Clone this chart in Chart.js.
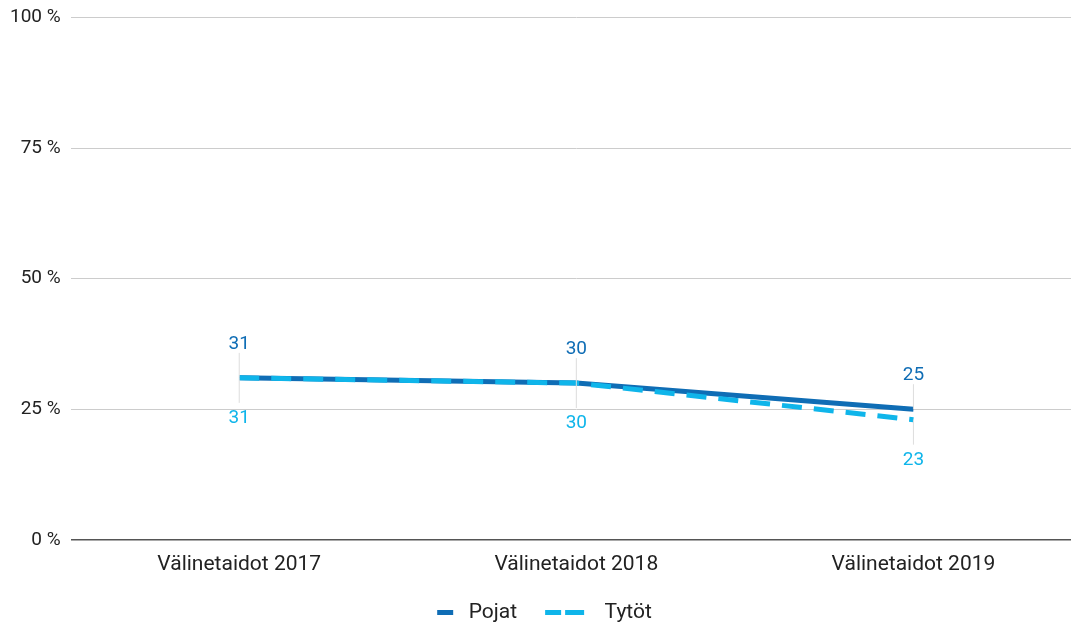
<!DOCTYPE html>
<html>
<head>
<meta charset="utf-8">
<script src="https://cdn.jsdelivr.net/npm/chart.js@4/dist/chart.umd.min.js"></script>
<style>
  html, body { margin: 0; padding: 0; background: #fff; overflow: hidden; }
  #wrap { width: 1082px; height: 628px; margin-top: -4px; }
</style>
</head>
<body>
<div id="wrap"><canvas id="chart"></canvas></div>
<script>
var categories = ['Välinetaidot 2017', 'Välinetaidot 2018', 'Välinetaidot 2019'],
    pojat = [31, 30, 25],
    tytot = [31, 30, 23],
    yTicks = [0, 25, 50, 75, 100],
    darkBlue = '#0f6db5',
    lightBlue = '#0fb5ea';

// legend swatches, 64px wide with transparent room for spacing
function swatch(dashed, color) {
    var c = document.createElement('canvas');
    c.width = 64; c.height = 5;
    var ctx = c.getContext('2d');
    ctx.fillStyle = color;
    if (dashed) {
        ctx.fillRect(15, 0, 16, 5);
        ctx.fillRect(35, 0, 19, 5);
    } else {
        ctx.fillRect(43, 0, 16, 5);
    }
    return c;
}

// value labels above / below the points, with thin leader lines
var valueLabels = {
    id: 'valueLabels',
    afterLayout: function(chart) {
        // nudge legend a bit left, like the original
        chart.legend.left -= 18;
        chart.legend.right -= 18;
    },
    afterDatasetsDraw: function(chart) {
        var ctx = chart.ctx;
        ctx.save();
        ctx.font = '19px Roboto';
        ctx.textAlign = 'center';
        chart.data.datasets.forEach(function(ds, i) {
            var meta = chart.getDatasetMeta(i);
            meta.data.forEach(function(pt, j) {
                var up = i === 0;
                ctx.strokeStyle = '#dddddd';
                ctx.lineWidth = 1;
                ctx.beginPath();
                ctx.moveTo(pt.x, pt.y);
                ctx.lineTo(pt.x, up ? pt.y - 25 : pt.y + 25);
                ctx.stroke();
                ctx.fillStyle = ds.borderColor;
                ctx.textBaseline = up ? 'bottom' : 'top';
                ctx.fillText(String(ds.data[j]), pt.x, up ? pt.y - 24 : pt.y + 31);
            });
        });
        ctx.restore();
    }
};

var chart = new Chart(document.getElementById('chart'), {
    type: 'line',
    data: {
        labels: categories,
        datasets: [{
            label: 'Pojat',
            data: pojat,
            order: 2,
            borderColor: darkBlue,
            backgroundColor: darkBlue,
            borderWidth: 5,
            pointRadius: 0,
            fill: false,
            tension: 0,
            legendStyle: swatch(false, darkBlue)
        }, {
            label: 'Tytöt',
            data: tytot,
            order: 1,
            borderColor: lightBlue,
            backgroundColor: lightBlue,
            borderWidth: 5,
            borderDash: [20, 12],
            pointRadius: 0,
            fill: false,
            tension: 0,
            legendStyle: swatch(true, lightBlue)
        }]
    },
    options: {
        responsive: true,
        maintainAspectRatio: false,
        animation: false,
        layout: { padding: { top: 0, left: 0, right: 0, bottom: -9 } },
        plugins: {
            tooltip: { enabled: false },
            legend: {
                position: 'bottom',
                labels: {
                    usePointStyle: true,
                    pointStyleWidth: 64,
                    padding: 13,
                    color: '#222',
                    font: { family: 'Roboto', size: 21 },
                    generateLabels: function(ch) {
                        return ch.data.datasets.map(function(ds, i) {
                            return {
                                text: ds.label,
                                pointStyle: ds.legendStyle,
                                fillStyle: ds.borderColor,
                                strokeStyle: ds.borderColor,
                                lineWidth: 0,
                                fontColor: '#222',
                                datasetIndex: i,
                                hidden: false
                            };
                        });
                    }
                }
            }
        },
        scales: {
            x: {
                offset: true,
                grid: { display: false, drawTicks: false },
                border: { display: false },
                ticks: { color: '#222', padding: 12, font: { family: 'Roboto', size: 21 } }
            },
            y: {
                min: 0,
                max: 100,
                afterBuildTicks: function(axis) {
                    axis.ticks = yTicks.map(function(v) { return { value: v }; });
                },
                grid: {
                    drawTicks: false,
                    color: function(c) { return c.tick && c.tick.value === 0 ? '#555' : '#cccccc'; },
                    lineWidth: function(c) { return c.tick && c.tick.value === 0 ? 1.5 : 1; }
                },
                border: { display: false },
                ticks: {
                    color: '#222',
                    padding: 10,
                    font: { family: 'Roboto', size: 19 },
                    callback: function(v) { return v + ' %'; }
                }
            }
        }
    },
    plugins: [valueLabels]
});
</script>
</body>
</html>
